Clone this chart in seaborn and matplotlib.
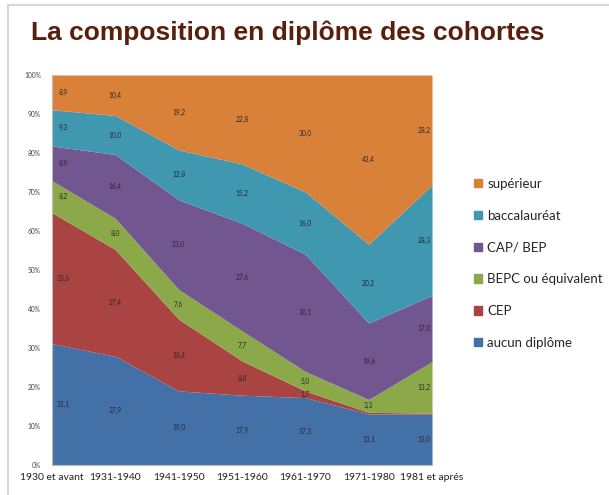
import numpy as np
import matplotlib
matplotlib.use("Agg")
import matplotlib.pyplot as plt
from matplotlib.lines import Line2D
from matplotlib.patches import Patch
import seaborn as sns

# Data (% of each cohort)
cohorts = ["1930 et avant", "1931-1940", "1941-1950", "1951-1960",
           "1961-1970", "1971-1980", "1981 et aprés"]
aucun = [31.1, 27.9, 19.0, 17.9, 17.3, 13.1, 13.0]
cep = [33.6, 27.4, 18.4, 8.8, 1.7, 0.4, 0.3]
bepc = [8.2, 8.0, 7.6, 7.7, 5.0, 3.3, 13.2]
cap_bep = [8.9, 16.4, 23.0, 27.6, 30.1, 19.6, 17.0]
bac = [9.3, 10.0, 12.8, 15.2, 16.0, 20.2, 28.3]
superieur = [8.9, 10.4, 19.2, 22.8, 30.0, 43.4, 28.2]

series_names = ["aucun diplôme", "CEP", "BEPC ou équivalent", "CAP/ BEP",
                "baccalauréat", "supérieur"]
series = [aucun, cep, bepc, cap_bep, bac, superieur]
colors = ["#4470A8", "#A94442", "#8CA94A", "#72568F", "#3F97B0", "#DA8139"]
show_label = [[True] * 7, [True] * 5 + [False, False], [True] * 7,
              [True] * 7, [True] * 7, [True] * 7]

sns.set_style("white")
plt.rcParams['font.family'] = ['Lato', 'DejaVu Sans']

fig = plt.figure(figsize=(6.09, 4.95), dpi=100)
ax = fig.add_axes([52 / 609, 1 - 465 / 495, 380 / 609, 390 / 495])

data = np.array(series)
pct = data / data.sum(axis=0) * 100
x = np.arange(len(cohorts))
ax.stackplot(x, pct, colors=colors, linewidth=0)

# data labels centred in each band
bottom = np.zeros(len(cohorts))
for i, vals in enumerate(data):
    for j in range(len(cohorts)):
        if show_label[i][j]:
            xx = x[j]
            if j == 0:
                xx += 0.17
            elif j == len(cohorts) - 1:
                xx -= 0.12
            ax.text(xx, bottom[j] + pct[i, j] / 2, f"{vals[j]:.1f}".replace(".", ","),
                    ha="center", va="center", fontsize=4.8, color="#2a2a2a")
    bottom += pct[i]

ax.set_xlim(0, len(cohorts) - 1)
ax.set_ylim(0, 100)
ax.set_yticks(np.arange(0, 101, 10))
ax.set_yticklabels([f"{v}%" for v in range(0, 101, 10)], fontsize=4.8, color="#444444")
ax.set_xticks(x)
ax.set_xticklabels(cohorts, fontsize=7.5, color="#222222")
ax.tick_params(length=0, pad=6)
ax.tick_params(axis="y", pad=8)
for s in ["top", "right"]:
    ax.spines[s].set_visible(False)
for s in ["left", "bottom"]:
    ax.spines[s].set_color("#bbbbbb")
    ax.spines[s].set_linewidth(0.8)

handles = [Patch(color=c, label=n) for c, n in zip(colors, series_names)][::-1]
fig.legend(handles=handles, loc="upper left", bbox_to_anchor=(462 / 609, 1 - 166 / 495),
           frameon=False, fontsize=9.5, handlelength=0.6, handleheight=0.6,
           handletextpad=0.4, labelspacing=1.5)

fig.text(31 / 609, 1 - 33 / 495, "La composition en diplôme des cohortes",
         fontsize=19, fontweight="bold", color="#5a1f0c", va="center",
         family=["Liberation Sans", "DejaVu Sans"])

# slide frame
fig.add_artist(Line2D([8 / 609, 1], [1 - 5 / 495, 1 - 5 / 495], color="#d8d8d8", lw=1.5))
fig.add_artist(Line2D([8 / 609, 8 / 609], [0, 1 - 5 / 495], color="#d8d8d8", lw=1.5))

fig.savefig("out.png", dpi=100)
